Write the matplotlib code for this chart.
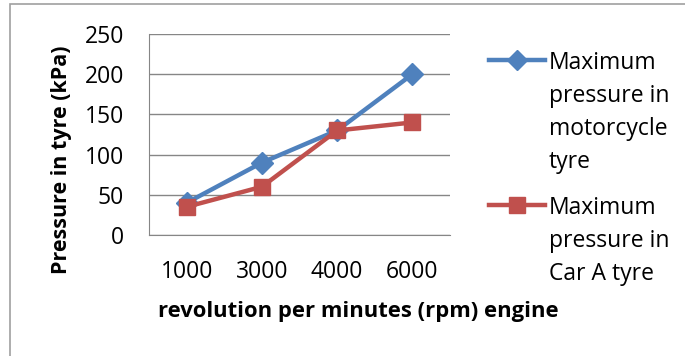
import matplotlib.pyplot as plt
from matplotlib.lines import Line2D
from matplotlib.patches import Rectangle

rpm = ['1000', '3000', '4000', '6000']
motorcycle = [40, 90, 130, 200]
car_a = [35, 60, 130, 140]
labels = ['Maximum\npressure in\nmotorcycle\ntyre', 'Maximum\npressure in\nCar A tyre']

blue = '#4F81BD'
red = '#C0504D'
grey = '#868686'
font = 'Open Sans'

W, H = 685, 356
fig = plt.figure(figsize=(W / 100, H / 100), dpi=100)
ax = fig.add_axes([149 / W, 1 - 235 / H, (450 - 149) / W, (235 - 34) / H])

x = range(len(rpm))
ax.plot(x, motorcycle, color=blue, linewidth=3.2, marker='D', markersize=11)
ax.plot(x, car_a, color=red, linewidth=3.2, marker='s', markersize=12)

ax.set_xlim(-0.5, len(rpm) - 0.5)
ax.set_ylim(0, 250)
ax.set_yticks(range(0, 251, 50))
ax.set_xticks(list(x))
ax.set_xticklabels(rpm)
ax.yaxis.grid(True, color=grey, linewidth=1)
ax.set_axisbelow(True)
for s in ['top', 'right']:
    ax.spines[s].set_visible(False)
for s in ['left', 'bottom']:
    ax.spines[s].set_color(grey)
ax.tick_params(length=0, labelsize=16.5)
ax.tick_params(axis='y', pad=18)
ax.tick_params(axis='x', pad=18)
for t in ax.get_xticklabels() + ax.get_yticklabels():
    t.set_fontfamily(font)

fig.text(62 / W, 1 - 160 / H, 'Pressure in tyre (kPa)', rotation=90, ha='center', va='center',
         fontsize=15.5, fontweight='bold', family=font)
fig.text(358 / W, 1 - 311 / H, 'revolution per minutes (rpm) engine', ha='center', va='center',
         fontsize=15.8, fontweight='bold', family=font)

# legend drawn by hand so the marker sits on the first text line
for lab, col, mk, ms, ly in [(labels[0], blue, 'D', 10, 60), (labels[1], red, 's', 12, 205)]:
    fig.add_artist(Line2D([489 / W, 545 / W], [1 - ly / H] * 2, color=col, linewidth=3.2,
                          transform=fig.transFigure))
    fig.add_artist(Line2D([517 / W], [1 - ly / H], color=col, marker=mk, markersize=ms,
                          transform=fig.transFigure))
    fig.text(549 / W, 1 - (ly - 9) / H, lab, ha='left', va='top', fontsize=16.5,
             family=font, linespacing=1.5)

fig.add_artist(Rectangle((10 / W, -0.1), 1.2, (H - 4) / H + 0.1, fill=False,
                         edgecolor='#A0A0A0', linewidth=1.2, transform=fig.transFigure))

fig.savefig('out.png', dpi=100)
